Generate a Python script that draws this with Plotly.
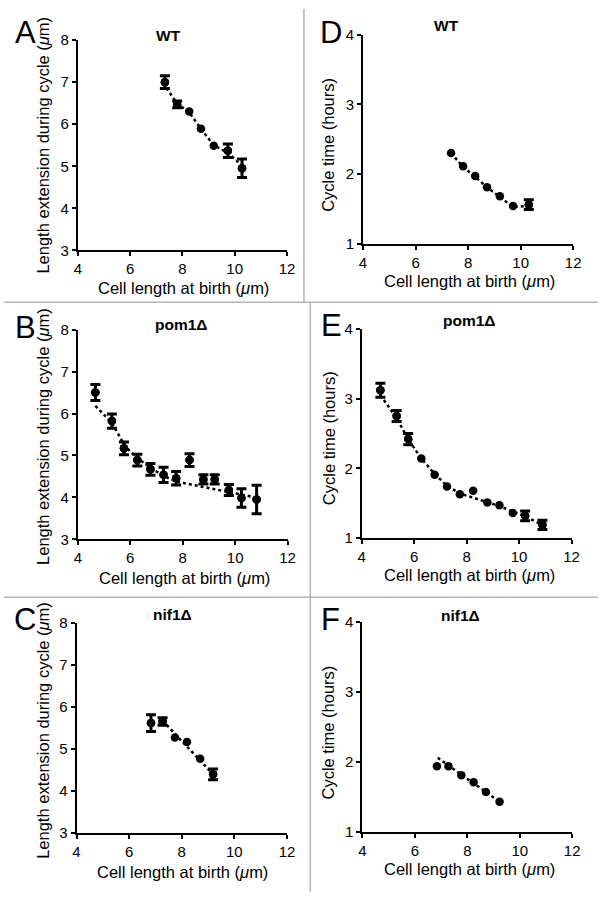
import plotly.graph_objects as go

W, H = 606, 900

# ---------------- data ----------------
# A: WT, length extension vs birth length
a_x = [7.33, 7.80, 8.26, 8.71, 9.20, 9.74, 10.28]
a_y = [7.00, 6.47, 6.30, 5.89, 5.49, 5.37, 4.95]
a_err = [0.15, 0.08, 0, 0, 0, 0.16, 0.22]
a_trend_x = [7.39, 7.80, 8.26, 8.71, 9.20, 9.74, 10.18]
a_trend_y = [6.86, 6.49, 6.28, 5.89, 5.50, 5.32, 5.07]

# B: pom1Δ, length extension
b_x = [4.67, 5.30, 5.76, 6.27, 6.77, 7.27, 7.75, 8.26, 8.79, 9.22, 9.76, 10.24, 10.82]
b_y = [6.50, 5.82, 5.17, 4.89, 4.67, 4.54, 4.46, 4.89, 4.43, 4.43, 4.18, 3.99, 3.95]
b_err = [0.19, 0.17, 0.15, 0.14, 0.14, 0.18, 0.16, 0.15, 0.11, 0.11, 0.13, 0.22, 0.34]
b_trend_x = [4.67, 5.30, 5.80, 6.25, 6.75, 7.25, 7.75, 10.80]
b_trend_y = [6.18, 5.78, 5.22, 4.95, 4.72, 4.52, 4.38, 4.00]

# C: nif1Δ, length extension
c_x = [6.83, 7.27, 7.74, 8.20, 8.70, 9.19]
c_y = [5.62, 5.66, 5.28, 5.17, 4.77, 4.40]
c_err = [0.20, 0.09, 0, 0, 0, 0.13]
c_trend_x = [7.27, 9.19]
c_trend_y = [5.68, 4.40]

# D: WT, cycle time
d_x = [7.35, 7.81, 8.27, 8.72, 9.21, 9.71, 10.31]
d_y = [2.30, 2.11, 1.97, 1.81, 1.68, 1.54, 1.56]
d_err = [0, 0, 0, 0, 0, 0, 0.07]
d_trend_x = [7.35, 7.81, 8.27, 8.72, 9.21, 9.71, 10.25]
d_trend_y = [2.30, 2.10, 1.96, 1.81, 1.67, 1.53, 1.54]

# E: pom1Δ, cycle time
e_x = [4.71, 5.33, 5.77, 6.27, 6.78, 7.25, 7.74, 8.25, 8.79, 9.25, 9.76, 10.23, 10.89]
e_y = [3.12, 2.75, 2.42, 2.14, 1.91, 1.74, 1.63, 1.68, 1.51, 1.47, 1.36, 1.32, 1.19]
e_err = [0.10, 0.08, 0.08, 0, 0, 0, 0, 0, 0, 0, 0, 0.07, 0.065]
e_trend_x = [4.71, 5.33, 5.77, 6.27, 6.78, 7.25, 7.74, 8.25, 8.79, 9.25, 9.76, 10.23, 10.89]
e_trend_y = [3.05, 2.72, 2.42, 2.14, 1.92, 1.75, 1.64, 1.58, 1.51, 1.46, 1.38, 1.31, 1.19]

# F: nif1Δ, cycle time
f_x = [6.84, 7.28, 7.77, 8.24, 8.71, 9.23]
f_y = [1.94, 1.94, 1.81, 1.71, 1.57, 1.43]
f_err = [0, 0, 0, 0, 0, 0]
f_trend_x = [6.87, 9.23]
f_trend_y = [2.06, 1.43]

x_ticks = [4, 6, 8, 10, 12]
len_ticks = [3, 4, 5, 6, 7, 8]
time_ticks = [1, 2, 3, 4]

x_title = "Cell length at birth (<i>μ</i>m)"
len_title = "Length extension during cycle (<i>μ</i>m)"
time_title = "Cycle time (hours)"

FONT = "Liberation Sans, Arial, Helvetica, sans-serif"


def px(x):
    return x / W


def py(y):
    return 1 - y / H


panels = [
    dict(letter="A", title="WT", x=a_x, y=a_y, err=a_err, tx=a_trend_x, ty=a_trend_y,
         xd=(75.3, 288.7), yd=(31.7, 246), kind="len",
         letter_pos=(22, 24), title_pos=(168, 27), ytitle_pos=(40, 139), xtitle_pos=(183, 284)),
    dict(letter="B", title="pom1Δ", x=b_x, y=b_y, err=b_err, tx=b_trend_x, ty=b_trend_y,
         xd=(75.3, 289.3), yd=(326.7, 540.7), kind="len",
         letter_pos=(22, 325), title_pos=(181, 322), ytitle_pos=(40, 436), xtitle_pos=(184, 580)),
    dict(letter="C", title="nif1Δ", x=c_x, y=c_y, err=c_err, tx=c_trend_x, ty=c_trend_y,
         xd=(74, 288.7), yd=(626, 840), kind="len",
         letter_pos=(21, 622), title_pos=(172, 617), ytitle_pos=(39.5, 735), xtitle_pos=(182, 880)),
    dict(letter="D", title="WT", x=d_x, y=d_y, err=d_err, tx=d_trend_x, ty=d_trend_y,
         xd=(366.3, 580.7), yd=(26, 239.3), kind="time",
         letter_pos=(334, 24), title_pos=(451, 17), ytitle_pos=(331, 138), xtitle_pos=(475, 277)),
    dict(letter="E", title="pom1Δ", x=e_x, y=e_y, err=e_err, tx=e_trend_x, ty=e_trend_y,
         xd=(365, 579), yd=(326, 539.3), kind="time",
         letter_pos=(334, 323), title_pos=(474, 317), ytitle_pos=(331, 437), xtitle_pos=(475, 577)),
    dict(letter="F", title="nif1Δ", x=f_x, y=f_y, err=f_err, tx=f_trend_x, ty=f_trend_y,
         xd=(365.7, 579.7), yd=(625, 838.7), kind="time",
         letter_pos=(333, 622), title_pos=(466, 618), ytitle_pos=(331, 737), xtitle_pos=(475, 877)),
]

fig = go.Figure()
layout = dict(
    width=W, height=H, margin=dict(l=0, r=0, t=0, b=0),
    paper_bgcolor="white", plot_bgcolor="white", showlegend=False,
    font=dict(family=FONT, color="black", size=15),
)
annotations = []

for i, p in enumerate(panels):
    n = "" if i == 0 else str(i + 1)
    xa, ya = "x" + n, "y" + n
    fig.add_trace(go.Scatter(
        x=p["tx"], y=p["ty"], mode="lines", xaxis=xa, yaxis=ya,
        line=dict(color="black", width=2.5, dash="dot"), hoverinfo="skip"))
    fig.add_trace(go.Scatter(
        x=p["x"], y=p["y"], mode="markers", xaxis=xa, yaxis=ya,
        marker=dict(color="black", size=8.5)))
    ex = [xv for xv, ev in zip(p["x"], p["err"]) if ev > 0]
    ey = [yv for yv, ev in zip(p["y"], p["err"]) if ev > 0]
    ee = [ev for ev in p["err"] if ev > 0]
    if ee:
        fig.add_trace(go.Scatter(
            x=ex, y=ey, mode="markers", xaxis=xa, yaxis=ya,
            marker=dict(color="black", size=8.5),
            error_y=dict(type="data", array=ee, visible=True, color="black",
                         thickness=3, width=5)))

    common = dict(showgrid=False, zeroline=False, showline=True, linecolor="black",
                  linewidth=2, ticks="outside", ticklen=4, tickwidth=2, tickcolor="black",
                  tickfont=dict(family=FONT, size=15, color="black"), mirror=False)
    layout["xaxis" + n] = dict(
        domain=[px(p["xd"][0]), px(p["xd"][1])], range=[4, 12],
        tickvals=x_ticks, anchor=ya, **common)
    if p["kind"] == "len":
        yr, yt, ytitle = [3, 8], len_ticks, len_title
    else:
        yr, yt, ytitle = [1, 4], time_ticks, time_title
    layout["yaxis" + n] = dict(
        domain=[py(p["yd"][1]), py(p["yd"][0])], range=yr,
        tickvals=yt, anchor=xa, **common)

    annotations.append(dict(
        text=p["letter"], x=px(p["letter_pos"][0]), y=py(p["letter_pos"][1]),
        xref="paper", yref="paper", xanchor="center", yanchor="middle", showarrow=False,
        font=dict(family=FONT, size=31, color="black")))
    annotations.append(dict(
        text="<b>" + p["title"] + "</b>", x=px(p["title_pos"][0]), y=py(p["title_pos"][1]),
        xref="paper", yref="paper", xanchor="center", yanchor="middle", showarrow=False,
        font=dict(family=FONT, size=15.5, color="black")))
    annotations.append(dict(
        text=ytitle, x=px(p["ytitle_pos"][0]), y=py(p["ytitle_pos"][1]), textangle=-90,
        xref="paper", yref="paper", xanchor="center", yanchor="middle", showarrow=False,
        font=dict(family=FONT, size=16.5, color="black")))
    annotations.append(dict(
        text=x_title, x=px(p["xtitle_pos"][0]), y=py(p["xtitle_pos"][1]),
        xref="paper", yref="paper", xanchor="center", yanchor="middle", showarrow=False,
        font=dict(family=FONT, size=16.5, color="black")))

layout["annotations"] = annotations
sep = dict(color="#b4b4b4", width=1.5)
layout["shapes"] = [
    dict(type="line", xref="paper", yref="paper", x0=0, x1=1, y0=py(299), y1=py(299), line=sep),
    dict(type="line", xref="paper", yref="paper", x0=0, x1=1, y0=py(599.5), y1=py(599.5), line=sep),
    dict(type="line", xref="paper", yref="paper", x0=px(306), x1=px(306), y0=py(0), y1=py(299), line=sep),
    dict(type="line", xref="paper", yref="paper", x0=px(312.5), x1=px(312.5), y0=py(299), y1=py(900), line=sep),
]
fig.update_layout(**layout)
fig.write_html(
    "out.html",
    config={"displayModeBar": False},
    post_script="document.body.style.margin='0';document.body.style.overflow='hidden';",
)
